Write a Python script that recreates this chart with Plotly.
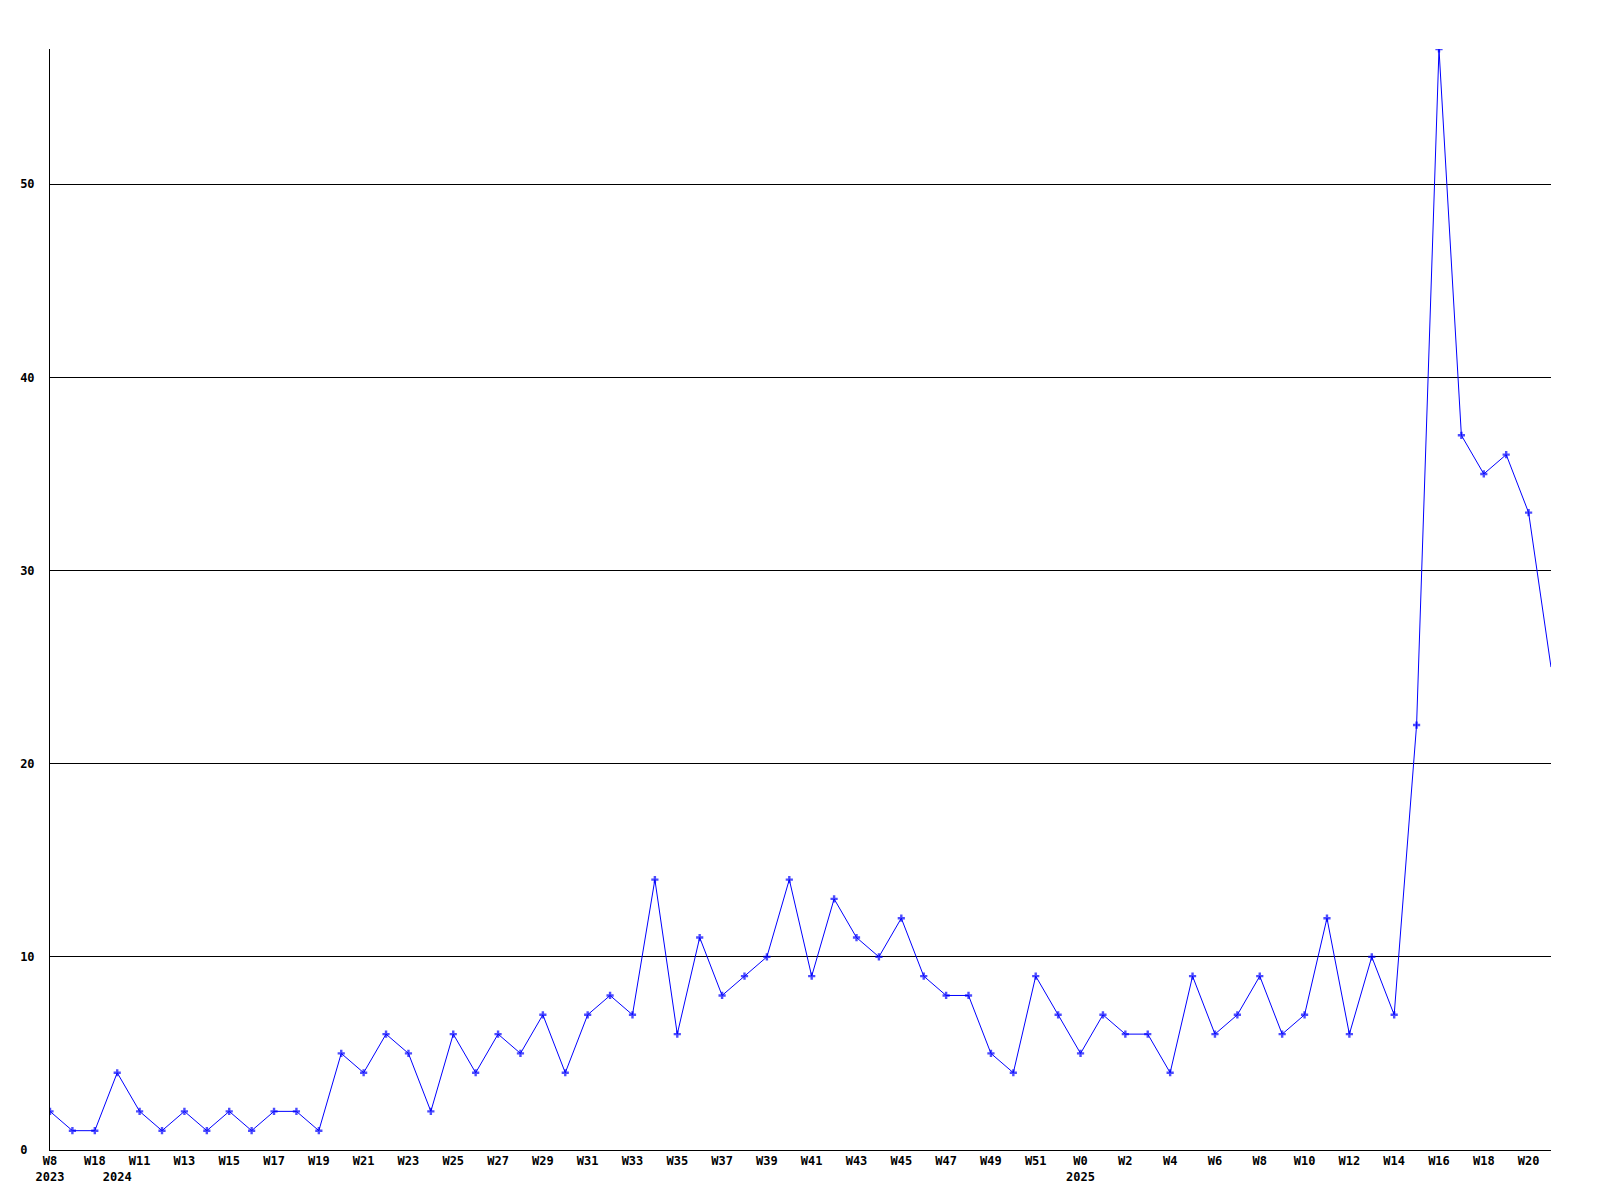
import plotly.graph_objects as go

weeks = ["W8", "W13", "W18"] + [f"W{w}" for w in range(10, 53)] + [f"W{w}" for w in range(0, 22)]
years = [2023] * 3 + [2024] * 43 + [2025] * 22
values = [2, 1, 1, 4, 2, 1, 2, 1, 2, 1, 2, 2, 1, 5, 4, 6, 5, 2, 6, 4,
          6, 5, 7, 4, 7, 8, 7, 14, 6, 11, 8, 9, 10, 14, 9, 13, 11, 10, 12, 9,
          8, 8, 5, 4, 9, 7, 5, 7, 6, 6, 4, 9, 6, 7, 9, 6, 7, 12, 6, 10,
          7, 22, 57, 37, 35, 36, 33, 25]
y_ticks = [0, 10, 20, 30, 40, 50]

n = len(values)
xs = list(range(n))

tickvals, ticktext = [], []
for i in range(n):
    first_of_year = i == 0 or years[i] != years[i - 1]
    show_week = i % 2 == 0
    if not (first_of_year or show_week):
        continue
    top = weeks[i] if show_week else "\u00a0"
    txt = top + (f"<br>{years[i]}" if first_of_year else "")
    tickvals.append(i)
    ticktext.append(txt)

sizes = [6] * (n - 1) + [0]

fig = go.Figure(go.Scatter(
    x=xs, y=values, mode="lines+markers",
    line=dict(color="#0000ff", width=1),
    marker=dict(symbol="cross", size=sizes, color="#0000ff", line=dict(width=0)),
    hoverinfo="skip",
))

font = dict(family="DejaVu Sans Mono", size=12, color="black", weight="bold")

fig.update_layout(
    width=1600, height=1200,
    margin=dict(l=42, r=57, t=41, b=58, autoexpand=False),
    paper_bgcolor="white", plot_bgcolor="white",
    showlegend=False,
    xaxis=dict(range=[0, n - 1], tickvals=tickvals, ticktext=ticktext,
               showgrid=False, zeroline=False, showline=True, linecolor="black",
               linewidth=1, ticks="", tickfont=font, tickangle=0, automargin=False),
    yaxis=dict(range=[0, 57], tickvals=y_ticks,
               ticktext=[f"{v}".ljust(2, "\u00a0") for v in y_ticks],
               showgrid=True, gridcolor="black", gridwidth=1, zeroline=False,
               showline=True, linecolor="black", linewidth=1, ticks="",
               tickfont=font, ticklabelstandoff=12, automargin=False),
)

fig.write_html("out.html")
